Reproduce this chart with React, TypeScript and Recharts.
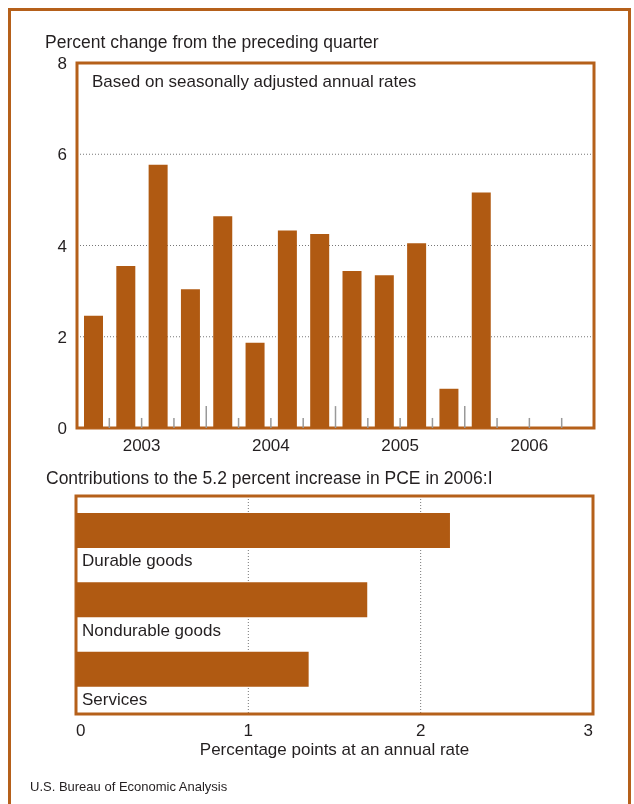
import React from "react";
import {
  BarChart,
  Bar,
  XAxis,
  YAxis,
  CartesianGrid,
  ReferenceLine,
  LabelList,
  usePlotArea,
} from "recharts";

// quarterly PCE growth, 2003:I - 2006:IV (only 13 quarters published)
const quarters = [
  "2003:I", "2003:II", "2003:III", "2003:IV",
  "2004:I", "2004:II", "2004:III", "2004:IV",
  "2005:I", "2005:II", "2005:III", "2005:IV",
  "2006:I", "2006:II", "2006:III", "2006:IV",
];
const pceGrowth = [2.46, 3.55, 5.77, 3.04, 4.64, 1.87, 4.33, 4.25, 3.44, 3.35, 4.05, 0.86, 5.16];
const growthTicks = [0, 2, 4, 6, 8];

// contributions to 2006:I increase
const components = ["Durable goods", "Nondurable goods", "Services"];
const contributions = [2.17, 1.69, 1.35];
const contribTicks = [0, 1, 2, 3];

const BAR = "#b05a12";
const FRAME = "#b5601a";
const INK = "#231f20";
const FONT = "'Liberation Sans', Arial, sans-serif";

const growthData = quarters.map((q, i) => ({
  quarter: q,
  year: q.slice(0, 4),
  pce: pceGrowth[i] ?? null,
}));
const contribData = components.map((name, i) => ({ name, value: contributions[i] }));

const PlotFrame = () => {
  const area = usePlotArea();
  if (!area) return null;
  return (
    <rect
      x={area.x}
      y={area.y}
      width={area.width}
      height={area.height}
      fill="none"
      stroke={FRAME}
      strokeWidth={3}
    />
  );
};

const ContribTick = (props: any) => {
  const { x, y, payload } = props;
  const v = payload.value;
  const anchor = v === contribTicks[0] ? "start" : v === contribTicks[contribTicks.length - 1] ? "end" : "middle";
  return (
    <text x={x} y={y} dy="0.71em" textAnchor={anchor} fontSize={17} fill={INK} fontFamily={FONT}>
      {v}
    </text>
  );
};

const CategoryLabel = (props: any) => {
  const { x, y, height, value } = props;
  return (
    <text x={x + 6} y={y + height + 14} dominantBaseline="middle" fontSize={17} fill={INK} fontFamily={FONT}>
      {value}
    </text>
  );
};

const text = (extra: React.CSSProperties): React.CSSProperties => ({
  position: "absolute",
  fontFamily: FONT,
  color: INK,
  whiteSpace: "nowrap",
  lineHeight: "20px",
  ...extra,
});

export default function App() {
  // quarter boundaries: every quarter but the last gets a tick at its right edge
  const boundaries = quarters.slice(0, -1);
  return (
    <div style={{ position: "relative", width: 618, height: 788, fontFamily: FONT }}>
      {/* outer frame runs off the bottom of the page; fixed so it adds no scroll */}
      <div
        style={{
          position: "fixed",
          left: 8,
          top: 8,
          width: 623,
          height: 812,
          border: `3px solid ${FRAME}`,
          boxSizing: "border-box",
          pointerEvents: "none",
        }}
      />

      <div style={text({ left: 37, top: 24, fontSize: 17.5 })}>Percent change from the preceding quarter</div>

      <div style={{ position: "absolute", left: 0, top: 0 }}>
        <BarChart
          width={600}
          height={460}
          data={growthData}
          margin={{ top: 55, right: 14, bottom: 10, left: 0 }}
        >
          <CartesianGrid xAxisId="q" vertical={false} stroke="#777" strokeDasharray="1 2" />
          <XAxis xAxisId="q" dataKey="quarter" hide height={0} />
          <XAxis
            xAxisId="yr"
            dataKey="year"
            allowDuplicatedCategory={false}
            axisLine={false}
            tickLine={false}
            tickMargin={5}
            height={30}
            tick={{ fontSize: 17, fill: INK, fontFamily: FONT }}
          />
          <YAxis
            domain={[0, 8]}
            ticks={growthTicks}
            width={69}
            axisLine={false}
            tickLine={false}
            tickMargin={4}
            tick={{ fontSize: 17, fill: INK, fontFamily: FONT }}
          />
          {boundaries.map((q, i) => (
            <ReferenceLine
              key={q}
              xAxisId="q"
              position="end"
              segment={[
                { x: q, y: 0 },
                { x: q, y: (i + 1) % 4 === 0 ? 0.48 : 0.22 },
              ]}
              stroke="#999"
              strokeWidth={1.5}
            />
          ))}
          <Bar xAxisId="q" dataKey="pce" fill={BAR} barSize={19} isAnimationActive={false} />
          <PlotFrame />
        </BarChart>
      </div>

      <div style={text({ left: 84, top: 64, fontSize: 17 })}>Based on seasonally adjusted annual rates</div>

      <div style={text({ left: 38, top: 460, fontSize: 17.5 })}>
        Contributions to the 5.2 percent increase in PCE in 2006:I
      </div>

      <div style={{ position: "absolute", left: 0, top: 470 }}>
        <BarChart
          width={600}
          height={270}
          data={contribData}
          layout="vertical"
          margin={{ top: 18, right: 15, bottom: 4, left: 68 }}
        >
          <CartesianGrid horizontal={false} stroke="#777" strokeDasharray="1 2" />
          <XAxis
            type="number"
            domain={[0, 3]}
            ticks={contribTicks}
            axisLine={false}
            tickLine={false}
            tickMargin={4}
            height={30}
            tick={<ContribTick />}
          />
          <YAxis type="category" dataKey="name" hide padding={{ top: 0, bottom: 10 }} />
          <Bar dataKey="value" fill={BAR} barSize={35} isAnimationActive={false}>
            <LabelList dataKey="name" content={<CategoryLabel />} />
          </Bar>
          <PlotFrame />
        </BarChart>
      </div>

      <div style={text({ left: 68, width: 517, top: 732, fontSize: 17, textAlign: "center" })}>
        Percentage points at an annual rate
      </div>
      <div style={text({ left: 22, top: 769, fontSize: 13 })}>U.S. Bureau of Economic Analysis</div>
    </div>
  );
}
